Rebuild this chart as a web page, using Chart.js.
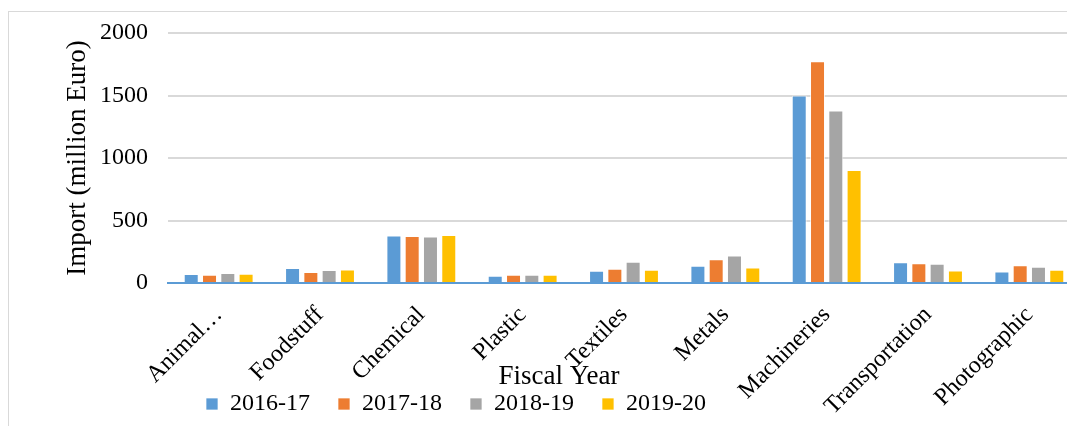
<!DOCTYPE html>
<html>
<head>
<meta charset="utf-8">
<title>Import by product group</title>
<script src="https://cdn.jsdelivr.net/npm/chart.js@4.4.0/dist/chart.umd.min.js"></script>
<style>
  html, body { margin: 0; padding: 0; background: #fff; overflow: hidden; }
  #frame {
    position: absolute; left: 8px; top: 11px;
    border-left: 1px solid #d9d9d9; border-top: 1px solid #d9d9d9;
    width: 1090px; height: 480px;
  }
</style>
</head>
<body>
<div id="frame"><canvas id="importChart" width="1080" height="480"></canvas></div>
<script>
const categories = ['Animal…', 'Foodstuff', 'Chemical', 'Plastic', 'Textiles', 'Metals', 'Machineries', 'Transportation', 'Photographic'];
const years = ['2016-17', '2017-18', '2018-19', '2019-20'];
const import201617 = [72, 120, 381, 58, 98, 138, 1500, 166, 92];
const import201718 = [66, 88, 376, 66, 114, 190, 1775, 158, 142];
const import201819 = [80, 104, 373, 66, 170, 220, 1380, 154, 130];
const import201920 = [74, 109, 384, 66, 106, 125, 905, 100, 106];
const yTicks = [0, 500, 1000, 1500, 2000];

const colors = ['#5b9bd5', '#ed7d31', '#a5a5a5', '#ffc000'];
const series = [import201617, import201718, import201819, import201920];
const serif = '"Liberation Serif", "Times New Roman", serif';

Chart.defaults.font.family = serif;
Chart.defaults.color = '#000';

// legend sits left of centre, caption drawn under the labels
const placeLegend = {
    id: 'placeLegend',
    afterLayout(chart) {
        const lg = chart.legend;
        const w = lg.right - lg.left;
        lg.left = 197 - lg.options.labels.padding;
        lg.right = lg.left + w;
        lg.top = 352;
    },
    afterDraw(chart) {
        const c = chart.ctx;
        c.save();
        c.font = '27px ' + serif;
        c.fillStyle = '#000';
        c.textAlign = 'center';
        c.textBaseline = 'middle';
        c.fillText('Fiscal Year', 550, 365);
        c.restore();
    }
};

new Chart(document.getElementById('importChart'), {
    type: 'bar',
    data: {
        labels: categories,
        datasets: years.map((y, i) => ({
            label: y,
            data: series[i],
            backgroundColor: colors[i],
            borderColor: 'rgba(255,255,255,0.7)',
            borderWidth: 1,
            categoryPercentage: 0.722,
            barPercentage: 0.82
        }))
    },
    options: {
        responsive: false,
        animation: false,
        layout: { padding: { top: 21, right: 9, bottom: 0, left: 0 } },
        scales: {
            x: {
                grid: { display: false, drawTicks: false },
                border: { color: '#5b9bd5', width: 2 },
                ticks: {
                    color: '#000',
                    font: { family: serif, size: 24 },
                    minRotation: 45, maxRotation: 45,
                    padding: 18,
                    autoSkip: false
                },
                afterFit(scale) { scale.height = 147; }
            },
            y: {
                min: 0, max: 2000,
                afterBuildTicks(scale) { scale.ticks = yTicks.map(v => ({ value: v })); },
                grid: {
                    drawTicks: false,
                    color: ctx => ctx.tick && ctx.tick.value === 0 ? 'rgba(0,0,0,0)' : '#d9d9d9',
                    lineWidth: 2
                },
                border: { display: false },
                ticks: {
                    color: '#000',
                    font: { family: serif, size: 24 },
                    padding: 20,
                    callback: v => String(v)
                },
                title: {
                    display: true,
                    text: 'Import (million Euro)',
                    color: '#000',
                    font: { family: serif, size: 27 },
                    padding: { top: 53, bottom: 0 }
                },
                afterFit(scale) {
                    scale.width = 159;
                    scale.paddingTop = 0;
                    scale.paddingBottom = 0;
                }
            }
        },
        plugins: {
            legend: {
                position: 'bottom',
                align: 'start',
                labels: {
                    color: '#000',
                    font: { family: serif, size: 24 },
                    boxWidth: 12, boxHeight: 12,
                    padding: 28
                }
            },
            tooltip: { enabled: false }
        }
    },
    plugins: [placeLegend]
});
</script>
</body>
</html>
